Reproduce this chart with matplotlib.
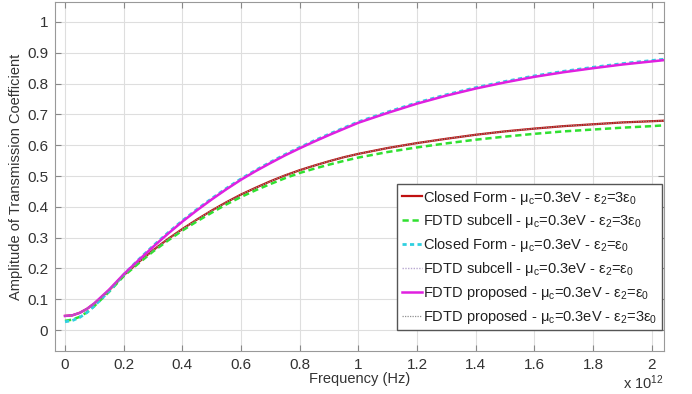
import matplotlib
matplotlib.use("Agg")
import matplotlib.pyplot as plt

plt.rcParams['font.family'] = ['Liberation Sans', 'DejaVu Sans']
plt.rcParams['mathtext.fontset'] = 'custom'
plt.rcParams['mathtext.rm'] = 'Liberation Sans'
plt.rcParams['mathtext.it'] = 'Liberation Sans'
plt.rcParams['mathtext.default'] = 'regular'

# frequency in units of 1e12 Hz
freq = [0, 0.025, 0.05, 0.075, 0.1, 0.15, 0.2, 0.25, 0.3, 0.35, 0.4, 0.45,
        0.5, 0.55, 0.6, 0.65, 0.7, 0.75, 0.8, 0.85, 0.9, 0.95, 1.0, 1.1, 1.2,
        1.3, 1.4, 1.5, 1.6, 1.7, 1.8, 1.9, 2.0, 2.05]

# eps2 = 3 eps0
closed_3e = [0.046, 0.048, 0.056, 0.069, 0.086, 0.129, 0.178, 0.220, 0.259,
             0.295, 0.328, 0.359, 0.388, 0.415, 0.440, 0.462, 0.483, 0.502,
             0.519, 0.534, 0.548, 0.561, 0.572, 0.591, 0.607, 0.621, 0.634,
             0.645, 0.654, 0.662, 0.668, 0.674, 0.678, 0.680]
subcell_3e = [0.030, 0.034, 0.043, 0.058, 0.078, 0.124, 0.175, 0.216, 0.255,
              0.290, 0.323, 0.353, 0.381, 0.408, 0.432, 0.454, 0.474, 0.493,
              0.510, 0.524, 0.537, 0.549, 0.560, 0.578, 0.593, 0.606, 0.618,
              0.628, 0.637, 0.645, 0.651, 0.657, 0.662, 0.665]
proposed_3e = [0.046, 0.048, 0.056, 0.069, 0.086, 0.129, 0.178, 0.220, 0.259,
               0.295, 0.328, 0.359, 0.388, 0.415, 0.440, 0.462, 0.483, 0.502,
               0.519, 0.534, 0.548, 0.561, 0.572, 0.591, 0.607, 0.621, 0.634,
               0.645, 0.654, 0.662, 0.668, 0.674, 0.678, 0.680]

# eps2 = eps0
closed_1e = [0.027, 0.031, 0.041, 0.057, 0.078, 0.126, 0.180, 0.228, 0.273,
             0.315, 0.355, 0.392, 0.427, 0.460, 0.491, 0.519, 0.545, 0.570,
             0.593, 0.615, 0.636, 0.656, 0.676, 0.708, 0.738, 0.764, 0.787,
             0.807, 0.825, 0.840, 0.853, 0.865, 0.875, 0.880]
subcell_1e = [0.046, 0.048, 0.056, 0.069, 0.087, 0.131, 0.181, 0.226, 0.270,
              0.312, 0.352, 0.389, 0.424, 0.457, 0.488, 0.516, 0.542, 0.567,
              0.590, 0.612, 0.633, 0.653, 0.673, 0.705, 0.735, 0.761, 0.784,
              0.804, 0.822, 0.837, 0.850, 0.862, 0.872, 0.877]
proposed_1e = [0.046, 0.048, 0.056, 0.069, 0.087, 0.131, 0.181, 0.226, 0.270,
               0.312, 0.352, 0.389, 0.424, 0.457, 0.488, 0.516, 0.542, 0.567,
               0.590, 0.612, 0.633, 0.653, 0.673, 0.705, 0.735, 0.761, 0.784,
               0.804, 0.822, 0.837, 0.850, 0.862, 0.872, 0.877]

xticks = [0, 0.2, 0.4, 0.6, 0.8, 1, 1.2, 1.4, 1.6, 1.8, 2]
yticks = [0, 0.1, 0.2, 0.3, 0.4, 0.5, 0.6, 0.7, 0.8, 0.9, 1]

lab = r' - $\mu_c$=0.3eV - '
fig = plt.figure(figsize=(6.92, 3.94), dpi=100)
ax = fig.add_axes([0.0795, 0.109, 0.880, 0.886])

ax.plot(freq, closed_3e, color='#c01010', lw=1.6,
        label='Closed Form' + lab + r'$ε_2$=3$ε_0$')
ax.plot(freq, subcell_3e, color='#30e030', lw=1.8, ls=(0, (2.5, 1.5)),
        label='FDTD subcell' + lab + r'$ε_2$=3$ε_0$')
ax.plot(freq, closed_1e, color='#30d0e0', lw=2.0, ls=(0, (1.5, 1.2)),
        label='Closed Form' + lab + r'$ε_2$=$ε_0$')
ax.plot(freq, subcell_1e, color='#b8a8d0', lw=1.0, ls=(0, (1, 1)),
        label='FDTD subcell' + lab + r'$ε_2$=$ε_0$')
ax.plot(freq, proposed_1e, color='#e020e0', lw=1.8,
        label='FDTD proposed' + lab + r'$ε_2$=$ε_0$')
ax.plot(freq, proposed_3e, color='#909090', lw=0.9, ls=(0, (1, 1)),
        label='FDTD proposed' + lab + r'$ε_2$=3$ε_0$')

ax.set_xlim(-0.034, 2.042)
ax.set_ylim(-0.068, 1.065)
ax.set_xticks(xticks)
ax.set_xticklabels([f'{t:g}' for t in xticks])
ax.set_yticks(yticks)
ax.set_yticklabels([f'{t:g}' for t in yticks])
ax.grid(True, color='#dedede', lw=0.8)
ax.set_axisbelow(True)
ax.tick_params(direction='in', top=True, right=True, length=4, pad=5,
               labelsize=11, colors='#888888', labelcolor='#333333')
for s in ax.spines.values():
    s.set_color('#999999')

ax.set_xlabel('Frequency (Hz)', fontsize=10.5, color='#333333', labelpad=0)
ax.set_ylabel('Amplitude of Transmission Coefficient', fontsize=10.5,
              color='#333333', labelpad=3)
ax.text(1.0, -0.092, r'x 10$^{12}$', transform=ax.transAxes, ha='right',
        va='center', fontsize=10.5, color='#333333')

leg = ax.legend(loc='lower right', bbox_to_anchor=(0.997, 0.06), borderaxespad=0,
                fontsize=10.5, handlelength=1.4, handletextpad=0.1,
                labelspacing=0.4, fancybox=False, framealpha=1,
                edgecolor='#555555', borderpad=0.3)
for t in leg.get_texts():
    t.set_color('#222222')

fig.savefig('out.png', dpi=100)
